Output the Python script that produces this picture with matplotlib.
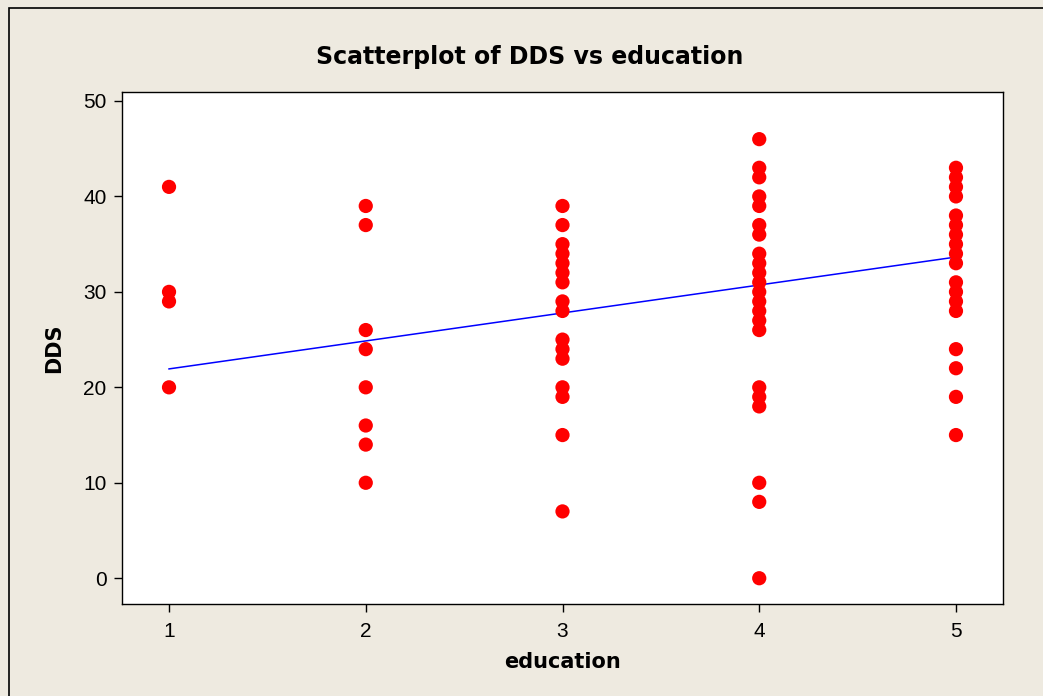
import numpy as np
import matplotlib
matplotlib.use("Agg")
import matplotlib.pyplot as plt
from matplotlib.patches import Rectangle

plt.rcParams['font.family'] = ['Liberation Sans', 'DejaVu Sans']

# DDS scores grouped by education level
edu_levels = [1, 2, 3, 4, 5]
dds_1 = [41, 30, 29, 20]
dds_2 = [39, 37, 26, 24, 20, 16, 14, 10]
dds_3 = [39, 37, 35, 34, 33, 32, 31, 29, 28, 25, 24, 23, 20, 19, 15, 7]
dds_4 = [46, 43, 42, 40, 39, 37, 36, 34, 33, 32, 31, 30, 29, 28, 27, 26,
         20, 19, 18, 10, 8, 0]
dds_5 = [43, 42, 41, 40, 38, 37, 36, 35, 34, 33, 31, 30, 29, 28, 24, 22, 19, 15]

# fitted line DDS = b0 + b1*education
b0 = 19.0
b1 = 2.93

groups = [dds_1, dds_2, dds_3, dds_4, dds_5]
x = np.concatenate([[lvl] * len(g) for lvl, g in zip(edu_levels, groups)])
y = np.concatenate(groups)

bg = "#eeeae0"
fig = plt.figure(figsize=(10.43, 6.96), dpi=100, facecolor=bg)
ax = fig.add_axes([122 / 1043, 1 - 604 / 696, 881 / 1043, 512 / 696])
ax.set_facecolor("white")

ax.scatter(x, y, s=105, color="#ff0000", edgecolors="none", zorder=3)
xl = np.array([edu_levels[0], edu_levels[-1]])
ax.plot(xl, b0 + b1 * xl, color="#0000ff", lw=1.1, zorder=2)

ax.set_xlim(0.761, 5.239)
ax.set_ylim(-2.7, 50.94)
ax.set_xticks(edu_levels)
ax.set_yticks([0, 10, 20, 30, 40, 50])
ax.tick_params(direction="out", length=6, width=1, labelsize=15, pad=5)
ax.tick_params(axis="x", pad=7)
for sp in ax.spines.values():
    sp.set_linewidth(1)

bold = dict(family="DejaVu Sans", fontweight="bold")
ax.set_xlabel("education", fontsize=15, labelpad=8, **bold)
ax.set_ylabel("DDS", fontsize=15, labelpad=14, **bold)
fig.text(530 / 1043, 1 - 57 / 696, "Scatterplot of DDS vs education",
         ha="center", va="center", fontsize=17, **bold)

# outer frame (bottom edge runs off the canvas)
fig.patches.append(Rectangle((9 / 1043, -0.1), 1, 1.1 - 8 / 696, transform=fig.transFigure,
                             fill=False, edgecolor="black", lw=1.2))

fig.savefig("out.png", dpi=100, facecolor=bg)
